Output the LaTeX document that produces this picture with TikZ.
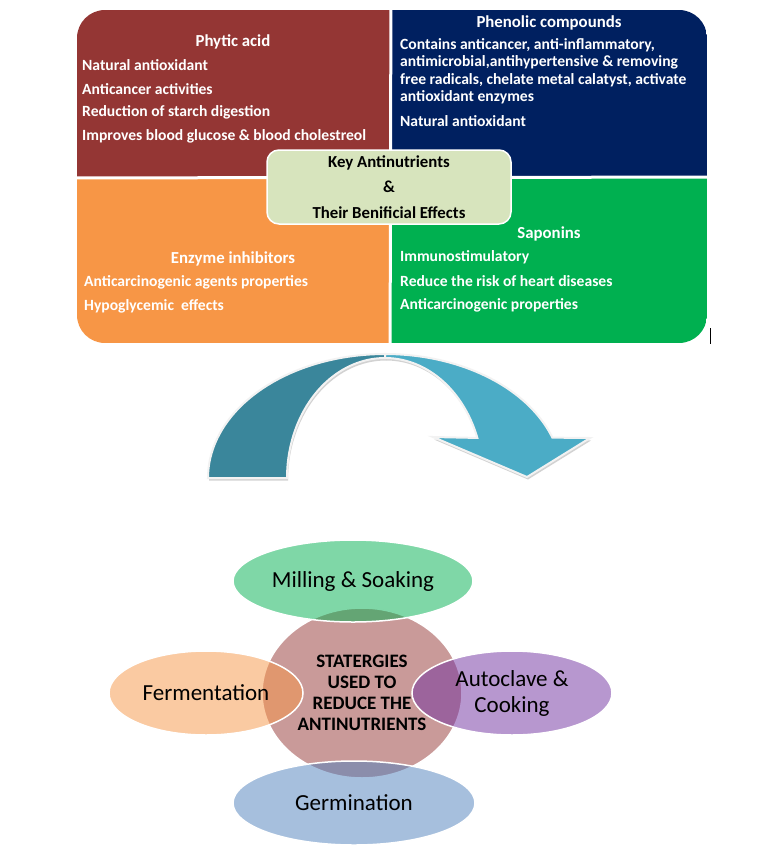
\documentclass[tikz,border=0pt]{standalone}
\usepackage{fontspec}
\setmainfont{Carlito}
\usetikzlibrary{shapes.geometric,shadows}

\definecolor{phyticred}{RGB}{148,54,52}
\definecolor{phenolblue}{RGB}{0,32,96}
\definecolor{enzymeorange}{RGB}{247,150,70}
\definecolor{saponingreen}{RGB}{0,176,80}
\definecolor{keygreen}{RGB}{215,228,189}
\definecolor{arrowdark}{RGB}{58,134,155}
\definecolor{arrowlight}{RGB}{75,172,198}
\definecolor{cookpurple}{RGB}{112,48,160}
\definecolor{germblue}{RGB}{79,129,189}

\begin{document}
\begin{tikzpicture}[x=1pt, y=-1pt,
    quad/.style={rectangle, inner sep=0pt},
    item/.style={anchor=west, inner sep=0pt, text=white, font=\bfseries\fontsize{15.6}{17}\selectfont},
    head/.style={inner sep=0pt, text=white, font=\bfseries\fontsize{16.8}{19}\selectfont},
    blob/.style={ellipse, draw=white, line width=1.5pt, fill opacity=0.5, text opacity=1,
        inner sep=0pt, align=center, font=\fontsize{23}{26}\selectfont},
    band/.style={draw=white!90!gray, line width=2pt,
        drop shadow={shadow xshift=1pt, shadow yshift=-2.5pt, opacity=0.35}}]
    \path[use as bounding box, fill=white] (0,0) rectangle (768,854);

    % four quadrants of the top panel
    \begin{scope}
        \clip[rounded corners=28pt] (77,10) rectangle (707,343);
        \node[quad, fill=phyticred, minimum width=313.5pt, minimum height=167.5pt, anchor=north west] (phytic) at (77,10) {};
        \node[quad, fill=phenolblue, minimum width=316.5pt, minimum height=167.5pt, anchor=north east] (phenolic) at (707,10) {};
        \node[quad, fill=enzymeorange, minimum width=313.5pt, minimum height=165.5pt, anchor=south west] (enzyme) at (77,343) {};
        \node[quad, fill=saponingreen, minimum width=316.5pt, minimum height=165.5pt, anchor=south east] (saponin) at (707,343) {};
    \end{scope}
    \draw[white, line width=3pt] (phytic.north east) -- (saponin.south west);
    \draw[white, line width=3pt] (phytic.south west) -- (saponin.north east);
    \draw[line width=1pt] (710,328) -- (710,344);

    % Phytic acid
    \node[head] (phytictitle) at (233,42) {Phytic acid};
    \foreach \txt/\yy in {{Natural antioxidant}/65, {Anticancer activities}/89,
        {Reduction of starch digestion}/112, {Improves blood glucose \& blood cholestreol}/136}
        \node[item] (phy-\yy) at (82,\yy) {\txt};

    % Phenolic compounds
    \node[head] (phenoltitle) at (549,23) {Phenolic compounds};
    \foreach \txt/\yy in {{Contains anticancer, anti-inflammatory,}/45,
        {antimicrobial,antihypertensive \& removing}/62.5,
        {free radicals, chelate metal calatyst, activate}/80,
        {antioxidant enzymes}/97.5, {Natural antioxidant}/121}
        \node[item] (phe-\yy) at (400,\yy) {\txt};

    % Enzyme inhibitors
    \node[head] (enzymetitle) at (233,259) {Enzyme inhibitors};
    \foreach \txt/\yy in {{Anticarcinogenic agents properties}/282, {Hypoglycemic\ \ effects}/306}
        \node[item] (enz-\yy) at (84,\yy) {\txt};

    % Saponins
    \node[head] (sapontitle) at (549,234) {Saponins};
    \foreach \txt/\yy in {{Immunostimulatory}/257, {Reduce the risk of heart diseases}/281,
        {Anticarcinogenic properties}/305}
        \node[item] (sap-\yy) at (400,\yy) {\txt};

    % centre box
    \node[rectangle, rounded corners=12pt, fill=keygreen, draw=white, line width=1.5pt,
        minimum width=244pt, minimum height=74pt, align=center,
        font=\bfseries\fontsize{16.8}{25.5}\selectfont] (key) at (389,187)
        {Key Antinutrients\\\&\\Their Benificial Effects};

    % curved arrow
    \fill[arrowdark, band] plot[domain=180:90, samples=40] ({385+177*cos(\x)},{478-124*sin(\x)})
        -- plot[domain=90:180, samples=40] ({385+98*cos(\x)},{478-120*sin(\x)}) -- cycle;
    \fill[arrowlight, band] plot[domain=90:19, samples=40] ({385+177*cos(\x)},{478-124*sin(\x)})
        -- (590,438) -- (527,477) -- (433,437)
        -- plot[domain=19.5:90, samples=40] ({385+98*cos(\x)},{478-120*sin(\x)}) -- cycle;

    % strategies
    \node[blob, fill=phyticred, minimum width=200pt, minimum height=170pt] (hub) at (362,693) {};
    \node[blob, fill=saponingreen, minimum width=240pt, minimum height=82pt] (milling) at (353,581) {Milling \& Soaking};
    \node[blob, fill=enzymeorange, minimum width=194pt, minimum height=84pt] (ferment) at (206,693) {Fermentation};
    \node[blob, fill=cookpurple, minimum width=200pt, minimum height=84pt] (autoclave) at (512,693) {Autoclave \&\\Cooking};
    \node[blob, fill=germblue, minimum width=242pt, minimum height=84pt] (germ) at (354,803) {Germination};
    \node[align=center, inner sep=0pt, font=\bfseries\fontsize{19}{21}\selectfont] (hublabel) at (hub)
        {STATERGIES\\USED TO\\REDUCE THE\\ANTINUTRIENTS};
\end{tikzpicture}
\end{document}
